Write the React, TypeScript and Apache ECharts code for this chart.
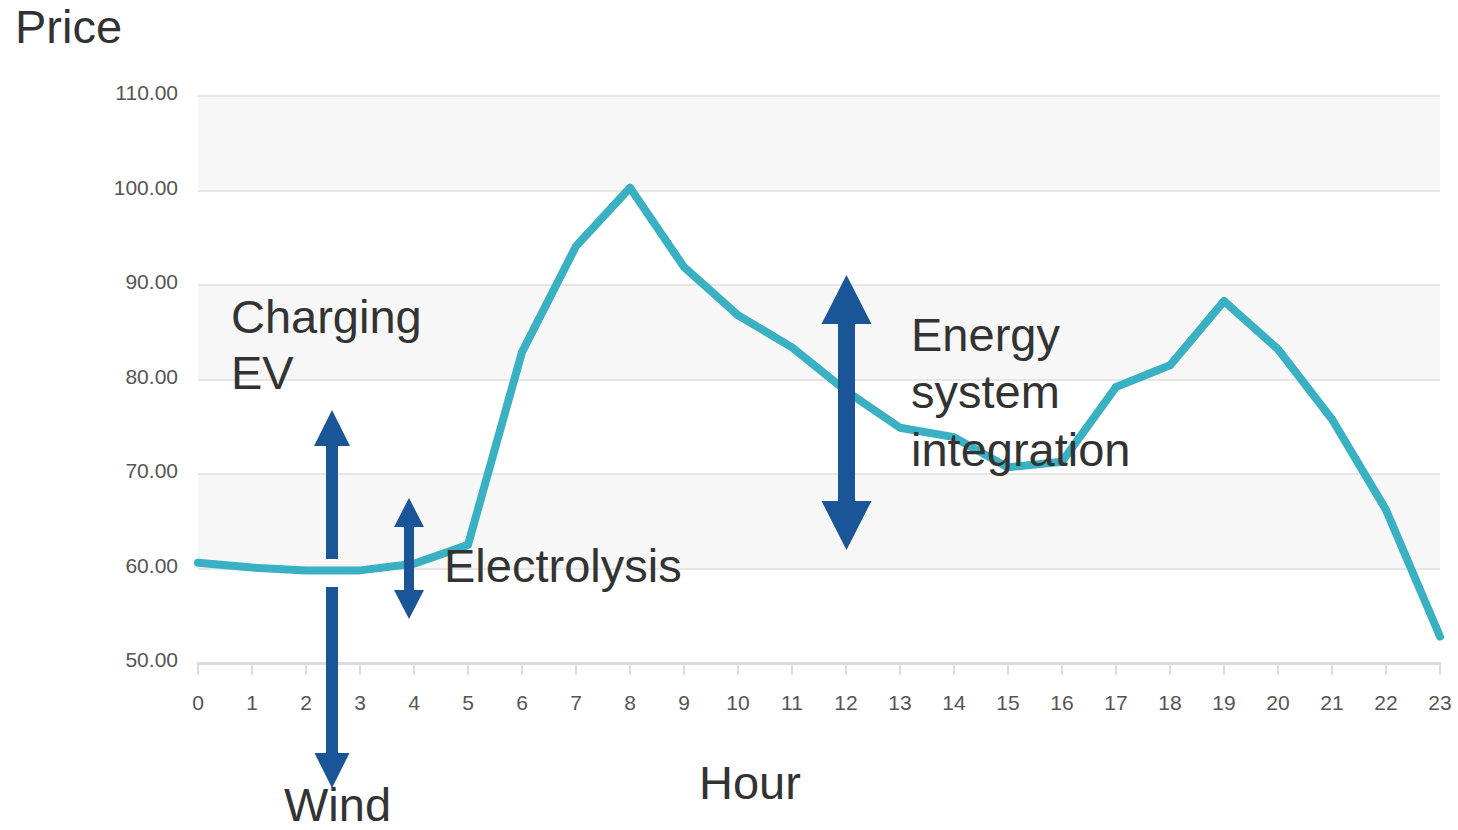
import React, { useEffect, useRef } from "react";
import * as echarts from "echarts";

const hours: string[] = [
  "0", "1", "2", "3", "4", "5", "6", "7", "8", "9", "10", "11",
  "12", "13", "14", "15", "16", "17", "18", "19", "20", "21", "22", "23",
];
const prices: number[] = [
  60.6, 60.1, 59.8, 59.8, 60.5, 62.5, 82.9, 94.1, 100.3, 91.9, 86.8, 83.4,
  78.8, 74.9, 73.9, 70.7, 71.3, 79.2, 81.5, 88.3, 83.2, 75.8, 66.2, 52.8,
];
const yMin = 50;
const yMax = 110;
const yStep = 10;

const FONT = "'Liberation Sans', Arial, sans-serif";
const ARROW = "#1a5597";

function vArrow(
  cx: number,
  top: number,
  bottom: number,
  headW: number,
  headH: number,
  shaftW: number,
  up: boolean,
  down: boolean
) {
  const hw = headW / 2;
  const sw = shaftW / 2;
  const pts: number[][] = [];
  if (up) {
    pts.push([cx, top], [cx + hw, top + headH], [cx + sw, top + headH]);
  } else {
    pts.push([cx + sw, top]);
  }
  if (down) {
    pts.push([cx + sw, bottom - headH], [cx + hw, bottom - headH], [cx, bottom], [cx - hw, bottom - headH], [cx - sw, bottom - headH]);
  } else {
    pts.push([cx + sw, bottom], [cx - sw, bottom]);
  }
  if (up) {
    pts.push([cx - sw, top + headH], [cx - hw, top + headH]);
  } else {
    pts.push([cx - sw, top]);
  }
  return {
    type: "polygon",
    shape: { points: pts },
    style: { fill: ARROW },
    z: 100,
  };
}

function label(text: string, x: number, y: number) {
  return {
    type: "text",
    x,
    y,
    z: 110,
    style: {
      text,
      fill: "#333333",
      font: `47px ${FONT}`,
      lineHeight: 40,
      verticalAlign: "middle",
      align: "left",
    },
  };
}

export default function App() {
  const ref = useRef<HTMLDivElement>(null);
  useEffect(() => {
    if (!ref.current) return;
    const chart = echarts.init(ref.current, undefined, { renderer: "svg" });
    chart.setOption({
      animation: false,
      backgroundColor: "#ffffff",
      grid: { left: 198, right: 18, top: 96, bottom: 167, containLabel: false },
      xAxis: {
        type: "category",
        data: hours,
        boundaryGap: false,
        axisLine: { show: true, lineStyle: { color: "#dddddd", width: 3 } },
        axisTick: { show: true, length: 12, lineStyle: { color: "#dddddd", width: 2 } },
        axisLabel: { color: "#555555", fontSize: 21, fontFamily: FONT, margin: 29, interval: 0 },
        splitLine: { show: false },
      },
      yAxis: {
        type: "value",
        min: yMin,
        max: yMax,
        interval: yStep,
        axisLine: { show: false },
        axisTick: { show: false },
        axisLabel: {
          color: "#555555",
          fontSize: 21,
          fontFamily: FONT,
          margin: 20,
          verticalAlign: "bottom",
          lineHeight: 7,
          formatter: (v: number) => v.toFixed(2),
        },
        splitLine: { show: true, lineStyle: { color: "#e6e6e6", width: 2 } },
        splitArea: { show: true, areaStyle: { color: ["#ffffff", "#f7f7f7"] } },
      },
      series: [
        {
          type: "line",
          data: prices,
          showSymbol: false,
          symbol: "none",
          smooth: false,
          lineStyle: { color: "#3ab0c3", width: 8, join: "round", cap: "round" },
          z: 5,
        },
      ],
      graphic: [
        label("Price", 15, 26),
        label("Charging", 231, 316),
        label("EV", 231, 372),
        label("Electrolysis", 444, 565),
        label("Energy", 911, 334),
        label("system", 911, 391),
        label("integration", 911, 449),
        label("Hour", 699, 782),
        label("Wind", 284, 804),
        vArrow(332, 410, 559, 36, 36, 12, true, false),
        vArrow(332, 587, 788, 35, 35, 12, false, true),
        vArrow(409, 498, 619, 30, 29, 10, true, true),
        vArrow(846.5, 275, 550, 50, 49, 17, true, true),
      ],
    });
    return () => chart.dispose();
  }, []);
  return (
    <div
      ref={ref}
      style={{ position: "fixed", left: 0, top: 0, width: 1458, height: 830, background: "#fff" }}
    />
  );
}
